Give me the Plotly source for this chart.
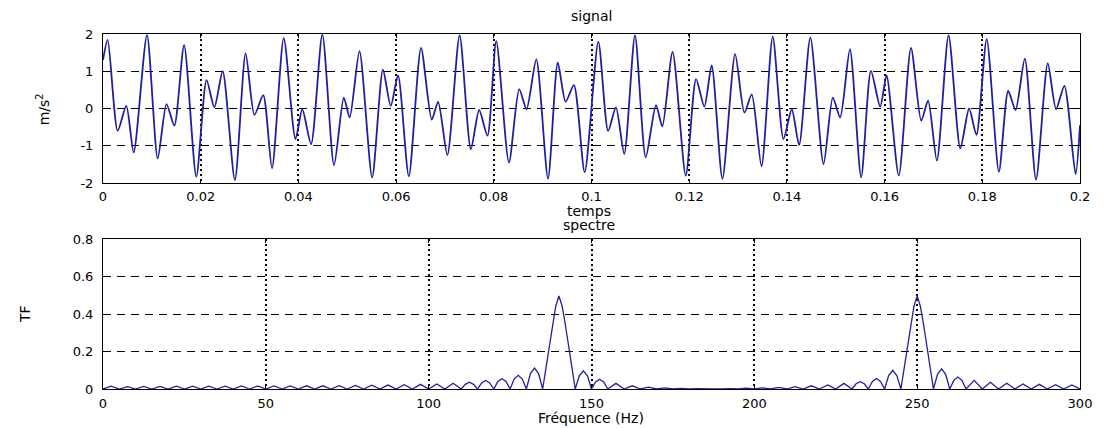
import plotly.graph_objects as go

# ---------------- data ----------------
# signal: local extrema (time in ms, value in m/s^2)
sig_t_ms = [0, 0.95, 3.0, 4.77, 6.28, 9.0, 11.2, 13.0, 14.6, 16.6, 19.1, 21.2, 22.8, 24.5,
            27.0, 29.2, 31.0, 32.8, 34.6, 37.0, 39.4, 40.8, 42.6, 44.9, 47.3, 49.3,
            50.5, 52.5, 55.1, 57.3, 58.9, 60.4, 62.6, 65.1, 67.3, 68.6, 70.5, 73.0,
            75.3, 77.0, 78.7, 80.5, 83.1, 85.2, 86.7, 88.7, 91.1, 93.1, 94.7, 96.4,
            98.6, 101.4, 103.4, 105.0, 106.7, 108.9, 111.1, 113.2, 114.5, 116.6, 119.3,
            121.4, 123.1, 124.6, 126.8, 129.4, 131.3, 132.8, 134.8, 137.1, 139.3, 141.0,
            142.5, 144.8, 147.5, 149.4, 150.9, 152.9, 155.2, 157.2, 159.1, 160.4, 162.9,
            165.4, 167.5, 168.9, 170.7, 173.1, 175.5, 177.3, 178.8, 180.9, 183.4, 185.3,
            186.8, 188.7, 191.0, 193.4, 195.1, 196.8, 199.1, 200.0]
sig_v = [1.30, 1.84, -0.60, 0.07, -1.18, 1.97, -1.34, 0.12, -0.46, 1.70, -1.83, 0.76, 0.03, 1.00,
         -1.92, 1.48, -0.17, 0.36, -1.60, 1.89, -0.82, -0.02, -0.96, 1.99, -1.52, 0.29,
         -0.24, 1.54, -1.85, 1.04, 0.07, 0.89, -1.82, 1.63, -0.30, 0.18, -1.25, 1.96,
         -1.09, -0.04, -0.73, 1.81, -1.45, 0.52, -0.02, 1.32, -1.88, 1.23, 0.18, 0.63,
         -1.71, 1.79, -0.60, 0.03, -1.22, 1.96, -1.31, 0.09, -0.48, 1.52, -1.80,
         0.79, 0.05, 1.16, -1.89, 1.46, -0.11, 0.38, -1.55, 1.93, -0.82, -0.02,
         -0.98, 1.90, -1.49, 0.29, -0.24, 1.59, -1.85, 1.01, 0.05, 0.88, -1.80,
         1.63, -0.33, 0.21, -1.40, 1.96, -1.07, 0.00, -0.71, 1.86, -1.70, 0.47,
         -0.04, 1.34, -1.91, 1.21, -0.02, 0.61, -1.76, -0.45]

# spectrum: frequency (Hz) and magnitude
spec_f = [0, 2.5, 5, 7.5, 10, 12.5, 15, 17.5, 20, 22.5, 25, 27.5, 30, 32.5, 35, 37.5, 40,
          42.5, 45, 47.5, 50, 52.5, 55, 57.5, 60, 62.5, 65, 67.5, 70, 72.5, 75, 77.5, 80,
          82.5, 85, 87.5, 90, 92.5, 95, 97.5, 100, 102.5, 105, 107.5, 110,
          111.25, 112.5, 113.75, 115, 116.25, 117.5, 118.75, 120, 121.25, 122.5, 123.75, 125,
          126.25, 127.5, 128.75, 130, 131.25, 132.5, 133.75, 135,
          136, 137, 138, 139, 140, 141, 142, 143, 144, 145,
          146.25, 147.5, 148.75, 150, 151.25, 152.5, 153.75, 155,
          157.5, 160, 162.5, 165, 167.5, 170, 172.5, 175, 177.5, 180, 182.5, 185, 187.5, 190,
          192.5, 195, 197.5, 200, 202.5, 205, 207.5, 210, 212.5, 215, 217.5, 220, 222.5, 225,
          227.5, 230, 231.25, 232.5, 233.75, 235, 236.25, 237.5, 238.75, 240,
          241.25, 242.5, 243.75, 245,
          246, 247, 248, 249, 250, 251, 252, 253, 254, 255,
          256.25, 257.5, 258.75, 260, 261.25, 262.5, 263.75, 265,
          267.5, 270, 272.5, 275, 277.5, 280, 282.5, 285, 287.5, 290, 292.5, 295, 297.5, 300]
spec_a = [0, 0.015, 0, 0.013, 0, 0.014, 0, 0.014, 0, 0.015, 0, 0.015, 0, 0.015, 0, 0.015, 0,
          0.016, 0, 0.016, 0, 0.016, 0, 0.016, 0, 0.017, 0, 0.017, 0, 0.018, 0, 0.019, 0,
          0.020, 0, 0.021, 0, 0.023, 0, 0.025, 0, 0.027, 0, 0.031, 0,
          0.025, 0.036, 0.025, 0, 0.032, 0.045, 0.032, 0, 0.040, 0.055, 0.040, 0,
          0.053, 0.073, 0.053, 0, 0.082, 0.112, 0.082, 0,
          0.11, 0.23, 0.34, 0.44, 0.497, 0.44, 0.34, 0.23, 0.11, 0,
          0.070, 0.097, 0.070, 0, 0.038, 0.052, 0.038, 0,
          0.030, 0, 0.017, 0, 0.010, 0, 0.006, 0, 0.003, 0, 0.002, 0, 0.001, 0,
          0.002, 0, 0.004, 0, 0.006, 0, 0.009, 0, 0.013, 0, 0.017, 0, 0.022, 0,
          0.030, 0, 0.028, 0.039, 0.028, 0, 0.040, 0.056, 0.040, 0,
          0.072, 0.100, 0.072, 0,
          0.11, 0.23, 0.34, 0.44, 0.497, 0.44, 0.34, 0.23, 0.11, 0,
          0.078, 0.108, 0.078, 0, 0.046, 0.064, 0.046, 0,
          0.046, 0, 0.036, 0, 0.031, 0, 0.027, 0, 0.025, 0, 0.023, 0, 0.022, 0]

t_ticks = [0, 0.02, 0.04, 0.06, 0.08, 0.1, 0.12, 0.14, 0.16, 0.18, 0.2]
t_ticktext = ["0", "0.02", "0.04", "0.06", "0.08", "0.1", "0.12", "0.14", "0.16", "0.18", "0.2"]
v_ticks = [-2, -1, 0, 1, 2]
v_ticktext = ["-2", "-1", "0", "1", "2"]
f_ticks = [0, 50, 100, 150, 200, 250, 300]
a_ticks = [0, 0.2, 0.4, 0.6, 0.8]
a_ticktext = ["0", "0.2", "0.4", "0.6", "0.8"]

# ---------------- figure ----------------
LINE = "#1f1fa0"
TICKFONT = dict(family="DejaVu Sans", size=13, color="black")
FONT = dict(family="DejaVu Sans", size=14, color="black")

sig_t = [x / 1000.0 for x in sig_t_ms]

fig = go.Figure()
fig.add_trace(go.Scatter(x=sig_t, y=sig_v, mode="lines",
                         line=dict(color=LINE, width=1.8, shape="spline", smoothing=0.7),
                         xaxis="x", yaxis="y", showlegend=False, hoverinfo="skip"))
fig.add_trace(go.Scatter(x=spec_f, y=spec_a, mode="lines",
                         line=dict(color=LINE, width=1.3), xaxis="x2", yaxis="y2",
                         showlegend=False, hoverinfo="skip"))

axis_common = dict(showline=True, linecolor="black", linewidth=1, mirror="ticks",
                   ticks="inside", ticklen=4, tickcolor="black", zeroline=False,
                   showgrid=True, gridcolor="black", tickfont=TICKFONT)

fig.update_layout(
    width=1106, height=428,
    margin=dict(l=103, r=26, t=34, b=39),
    paper_bgcolor="white", plot_bgcolor="white",
    showlegend=False,
    xaxis=dict(domain=[0, 1], anchor="y", range=[0, 0.2], tickvals=t_ticks,
               ticktext=t_ticktext, griddash="2px,3px", gridwidth=1.5,
               ticklabelstandoff=1, **axis_common),
    yaxis=dict(domain=[0.5803, 1], anchor="x", range=[-2, 2], tickvals=v_ticks,
               ticktext=v_ticktext, griddash="8px,6px", gridwidth=1,
               ticklabelstandoff=6, **axis_common),
    xaxis2=dict(domain=[0, 1], anchor="y2", range=[0, 300], tickvals=f_ticks,
                griddash="2px,3px", gridwidth=1.5, ticklabelstandoff=2, **axis_common),
    yaxis2=dict(domain=[0, 0.4225], anchor="x2", range=[0, 0.8], tickvals=a_ticks,
                ticktext=a_ticktext, griddash="8px,6px", gridwidth=1,
                ticklabelstandoff=6, **axis_common),
)

def ann(text, x, y, angle=0):
    fig.add_annotation(text=text, x=x, y=y, xref="paper", yref="paper",
                       xanchor="center", yanchor="middle", showarrow=False,
                       textangle=angle, font=FONT)

ann("signal", 0.5, 1.05)
ann("temps", 0.497, 0.502)
ann("spectre", 0.497, 0.463)
ann("Fréquence (Hz)", 0.499, -0.083)
ann("m/s<sup>2</sup>", -0.061, 0.789, -90)
ann("TF", -0.080, 0.211, -90)

fig.write_html("out.html")
